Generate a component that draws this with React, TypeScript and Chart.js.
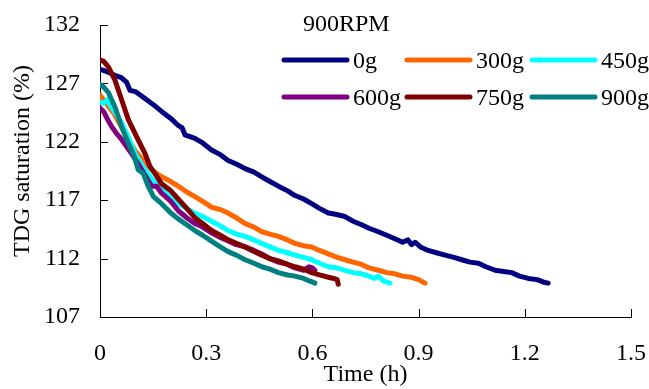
import React, { useEffect, useRef } from "react";
import { Chart, registerables } from "chart.js";

Chart.register(...registerables);

const seriesLabels = ["0g", "300g", "450g", "600g", "750g", "900g"];
const seriesColors = ["#000080", "#FF6600", "#00FFFF", "#800080", "#800000", "#008080"];
const legendTitle = "900RPM";
const xTitle = "Time (h)";
const yTitle = "TDG saturation (%)";
const xTicks = [0, 0.3, 0.6, 0.9, 1.2, 1.5];
const xTickLabels = ["0", "0.3", "0.6", "0.9", "1.2", "1.5"];
const yTicks = [107, 112, 117, 122, 127, 132];
const yTickLabels = ["107", "112", "117", "122", "127", "132"];

const time0g = [0, 0.02, 0.042, 0.06, 0.075, 0.085, 0.1, 0.127, 0.15, 0.174, 0.2, 0.221, 0.232, 0.24, 0.268, 0.29, 0.315, 0.34, 0.362, 0.385, 0.41, 0.435, 0.457, 0.48, 0.504, 0.53, 0.551, 0.575, 0.598, 0.62, 0.645, 0.665, 0.692, 0.715, 0.739, 0.76, 0.786, 0.81, 0.833, 0.855, 0.87, 0.88, 0.89, 0.905, 0.927, 0.95, 0.975, 1.0, 1.022, 1.045, 1.069, 1.09, 1.116, 1.14, 1.163, 1.185, 1.21, 1.235, 1.257, 1.266];
const tdg0g = [128.2, 128.0, 127.7, 127.5, 127.1, 126.4, 126.3, 125.7, 125.2, 124.6, 124.0, 123.4, 123.2, 122.6, 122.3, 121.9, 121.3, 120.9, 120.4, 120.1, 119.7, 119.4, 119.0, 118.6, 118.2, 117.8, 117.4, 117.1, 116.7, 116.3, 115.9, 115.8, 115.6, 115.2, 114.9, 114.6, 114.3, 114.0, 113.7, 113.4, 113.6, 113.2, 113.4, 113.0, 112.7, 112.5, 112.3, 112.1, 111.9, 111.7, 111.6, 111.3, 111.0, 110.9, 110.8, 110.5, 110.3, 110.2, 109.95, 109.9];

const time300g = [0, 0.01, 0.02, 0.04, 0.06, 0.08, 0.1, 0.127, 0.15, 0.174, 0.2, 0.221, 0.245, 0.268, 0.29, 0.315, 0.34, 0.362, 0.385, 0.41, 0.435, 0.457, 0.48, 0.504, 0.53, 0.551, 0.575, 0.598, 0.62, 0.645, 0.67, 0.692, 0.715, 0.739, 0.76, 0.786, 0.81, 0.833, 0.855, 0.88, 0.9, 0.918];
const tdg300g = [126.0, 125.6, 125.2, 124.4, 123.3, 122.2, 121.2, 120.2, 119.5, 119.0, 118.6, 118.2, 117.7, 117.3, 116.9, 116.4, 116.2, 115.9, 115.5, 115.0, 114.7, 114.3, 114.1, 113.9, 113.6, 113.3, 113.1, 113.0, 112.7, 112.4, 112.1, 111.9, 111.7, 111.5, 111.2, 111.0, 110.8, 110.7, 110.5, 110.4, 110.2, 109.9];

const time450g = [0, 0.01, 0.02, 0.03, 0.045, 0.061, 0.08, 0.099, 0.127, 0.15, 0.174, 0.2, 0.221, 0.245, 0.268, 0.29, 0.315, 0.34, 0.362, 0.385, 0.41, 0.435, 0.457, 0.48, 0.504, 0.53, 0.551, 0.575, 0.598, 0.62, 0.645, 0.67, 0.692, 0.715, 0.739, 0.76, 0.775, 0.786, 0.8, 0.819];
const tdg450g = [125.4, 125.3, 125.6, 125.1, 124.4, 123.6, 122.4, 121.0, 119.6, 118.7, 117.9, 117.2, 116.7, 116.3, 115.9, 115.6, 115.2, 114.8, 114.4, 114.1, 113.9, 113.6, 113.3, 113.0, 112.7, 112.5, 112.3, 112.1, 111.9, 111.6, 111.3, 111.2, 111.0, 110.8, 110.7, 110.5, 110.3, 110.5, 110.1, 109.9];

const time600g = [0, 0.01, 0.02, 0.033, 0.047, 0.061, 0.075, 0.089, 0.104, 0.118, 0.132, 0.146, 0.16, 0.174, 0.2, 0.221, 0.245, 0.268, 0.29, 0.315, 0.34, 0.362, 0.385, 0.41, 0.435, 0.457, 0.48, 0.504, 0.53, 0.551, 0.575, 0.59, 0.6, 0.607];
const tdg600g = [124.9, 124.6, 124.0, 123.3, 122.7, 122.2, 121.6, 121.0, 120.3, 119.6, 118.9, 118.2, 118.2, 117.6, 116.9, 116.1, 115.5, 115.0, 114.7, 114.2, 113.8, 113.5, 113.2, 113.0, 112.7, 112.4, 112.0, 111.7, 111.5, 111.2, 111.0, 111.3, 111.2, 111.0];

const time750g = [0, 0.01, 0.024, 0.042, 0.061, 0.08, 0.104, 0.127, 0.141, 0.155, 0.174, 0.2, 0.221, 0.245, 0.268, 0.29, 0.315, 0.34, 0.362, 0.385, 0.41, 0.435, 0.457, 0.48, 0.504, 0.53, 0.551, 0.575, 0.598, 0.62, 0.645, 0.66, 0.67, 0.673];
const tdg750g = [129.0, 128.9, 128.4, 127.3, 125.6, 123.9, 122.4, 121.0, 119.9, 119.3, 118.4, 117.8, 117.1, 116.3, 115.5, 115.0, 114.4, 114.0, 113.6, 113.3, 113.0, 112.6, 112.3, 112.0, 111.8, 111.5, 111.3, 111.1, 110.8, 110.6, 110.4, 110.3, 110.2, 109.8];

const time900g = [0, 0.01, 0.024, 0.042, 0.061, 0.08, 0.095, 0.108, 0.122, 0.136, 0.151, 0.174, 0.2, 0.221, 0.245, 0.268, 0.29, 0.315, 0.34, 0.362, 0.385, 0.41, 0.435, 0.457, 0.48, 0.504, 0.53, 0.551, 0.575, 0.59, 0.6, 0.607];
const tdg900g = [126.9, 126.7, 126.2, 125.0, 123.3, 121.9, 120.9, 119.6, 119.3, 118.2, 117.3, 116.7, 115.9, 115.4, 114.9, 114.4, 114.0, 113.5, 113.0, 112.6, 112.3, 111.9, 111.6, 111.3, 111.1, 110.8, 110.6, 110.5, 110.3, 110.1, 110.0, 109.9];

const seriesTimes = [time0g, time300g, time450g, time600g, time750g, time900g];
const seriesValues = [tdg0g, tdg300g, tdg450g, tdg600g, tdg750g, tdg900g];

const FONT = "'Liberation Serif', 'Times New Roman', serif";

const decorPlugin = {
  id: "decor",
  beforeDatasetsDraw(chart: any) {
    const { ctx, chartArea, scales } = chart;
    ctx.save();
    ctx.strokeStyle = "#000";
    ctx.lineWidth = 1;
    ctx.beginPath();
    yTicks.forEach((v) => {
      const y = Math.round(scales.y.getPixelForValue(v)) + 0.5;
      ctx.moveTo(chartArea.left, y);
      ctx.lineTo(chartArea.left + 8, y);
    });
    xTicks.forEach((v) => {
      const x = Math.round(scales.x.getPixelForValue(v)) + 0.5;
      ctx.moveTo(x, chartArea.bottom);
      ctx.lineTo(x, chartArea.bottom - 8);
    });
    ctx.stroke();
    ctx.restore();
  },
  afterDraw(chart: any) {
    const { ctx } = chart;
    ctx.save();
    ctx.fillStyle = "#000";
    ctx.font = `24px ${FONT}`;
    ctx.save();
    ctx.translate(23, 161);
    ctx.rotate(-Math.PI / 2);
    ctx.textAlign = "center";
    ctx.textBaseline = "middle";
    ctx.fillText(yTitle, 0, 0);
    ctx.restore();
    ctx.font = `24px ${FONT}`;
    ctx.textAlign = "left";
    ctx.textBaseline = "alphabetic";
    ctx.fillText(legendTitle, 303, 31);
    const colLine = [284, 407, 532];
    const rowY = [60, 97];
    seriesLabels.forEach((label, i) => {
      const r = Math.floor(i / 3);
      const c = i % 3;
      const x0 = colLine[c];
      const y = rowY[r];
      ctx.strokeStyle = seriesColors[i];
      ctx.lineWidth = 5;
      ctx.lineCap = "round";
      ctx.beginPath();
      ctx.moveTo(x0, y);
      ctx.lineTo(x0 + 63, y);
      ctx.stroke();
      ctx.fillStyle = "#000";
      ctx.font = `24px ${FONT}`;
      ctx.fillText(label, x0 + 69, y + 8);
    });
    ctx.restore();
  },
};

export default function App() {
  const canvasRef = useRef<HTMLCanvasElement | null>(null);

  useEffect(() => {
    document.body.style.margin = "0";
    const canvas = canvasRef.current;
    if (!canvas) return;
    const datasets = seriesLabels.map((label, i) => ({
      label,
      data: seriesTimes[i].map((t, j) => ({ x: t, y: seriesValues[i][j] })),
      borderColor: seriesColors[i],
      backgroundColor: seriesColors[i],
      borderWidth: 5,
      pointRadius: 0,
      tension: 0,
      borderCapStyle: "round" as const,
      borderJoinStyle: "round" as const,
      fill: false,
      order: seriesLabels.length - i,
    }));
    const chart = new Chart(canvas, {
      type: "line",
      data: { datasets },
      options: {
        animation: false,
        responsive: false,
        maintainAspectRatio: false,
        parsing: false as any,
        layout: { autoPadding: false, padding: { left: 0, top: 25, right: 18, bottom: 0 } },
        plugins: { legend: { display: false }, tooltip: { enabled: false } },
        scales: {
          x: {
            type: "linear",
            min: 0,
            max: 1.5,
            afterBuildTicks: (s: any) => {
              s.ticks = xTicks.map((v) => ({ value: v }));
            },
            afterFit: (s: any) => {
              s.height = 72;
              s.paddingLeft = 0;
              s.paddingRight = 0;
            },
            grid: { display: false, drawTicks: false },
            border: { display: true, color: "#000", width: 1 },
            ticks: {
              color: "#000",
              font: { family: FONT, size: 24 },
              padding: 22,
              maxRotation: 0,
              autoSkip: false,
              callback: (_v: any, i: number) => xTickLabels[i],
            },
            title: {
              display: true,
              text: xTitle,
              color: "#000",
              font: { family: FONT, size: 24, lineHeight: 1.2 },
              padding: { top: 0, bottom: 0 },
            },
          },
          y: {
            type: "linear",
            min: 107,
            max: 132,
            afterBuildTicks: (s: any) => {
              s.ticks = yTicks.map((v) => ({ value: v }));
            },
            afterFit: (s: any) => {
              s.width = 100;
              s.paddingTop = 0;
              s.paddingBottom = 0;
            },
            grid: { display: false, drawTicks: false },
            border: { display: true, color: "#000", width: 1 },
            ticks: {
              color: "#000",
              font: { family: FONT, size: 24 },
              padding: 20,
              autoSkip: false,
              callback: (_v: any, i: number) => yTickLabels[i],
            },
          },
        },
      },
      plugins: [decorPlugin],
    });
    return () => chart.destroy();
  }, []);

  return (
    <div style={{ width: 649, height: 389, position: "relative" }}>
      <canvas ref={canvasRef} width={649} height={389} style={{ display: "block" }} />
    </div>
  );
}
